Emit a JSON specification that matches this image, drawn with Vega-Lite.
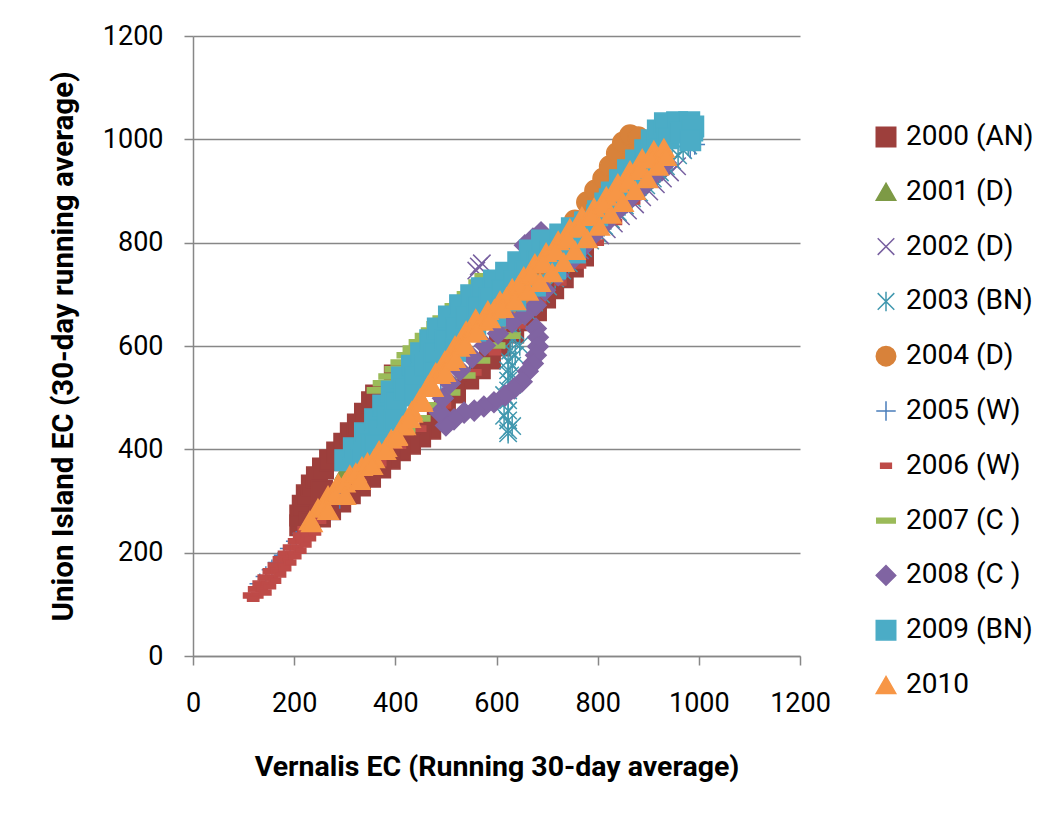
{
"$schema": "https://vega.github.io/schema/vega-lite/v6.json",
"width": 607, "height": 620,
"autosize": {"type": "none"},
"padding": {"left": 193, "top": 36, "right": 247, "bottom": 159},
"background": "white",
"config": {"view": {"stroke": null}, "font": "Roboto",
 "legend": {"labelFont": "Roboto", "labelFontSize": 28, "labelColor": "#000", "symbolSize": 380, "rowPadding": 26.8, "labelOffset": 6, "symbolStrokeWidth": 1.5, "padding": 0, "labelLimit": 400, "symbolOpacity": 1}},
"data": {"values": [
{"s":"2000 (AN)","x":212,"y":253},{"s":"2000 (AN)","x":212,"y":272},{"s":"2000 (AN)","x":217,"y":291},{"s":"2000 (AN)","x":225,"y":311},{"s":"2000 (AN)","x":235,"y":330},{"s":"2000 (AN)","x":245,"y":346},{"s":"2000 (AN)","x":257,"y":363},{"s":"2000 (AN)","x":271,"y":379},{"s":"2000 (AN)","x":285,"y":394},{"s":"2000 (AN)","x":299,"y":411},{"s":"2000 (AN)","x":312,"y":431},{"s":"2000 (AN)","x":326,"y":448},{"s":"2000 (AN)","x":340,"y":469},{"s":"2000 (AN)","x":354,"y":491},{"s":"2000 (AN)","x":362,"y":504},{"s":"2000 (AN)","x":255,"y":320},{"s":"2000 (AN)","x":399,"y":543},{"s":"2000 (AN)","x":449,"y":591},{"s":"2000 (AN)","x":508,"y":640},{"s":"2000 (AN)","x":567,"y":688},{"s":"2000 (AN)","x":627,"y":717},{"s":"2000 (AN)","x":686,"y":746},{"s":"2000 (AN)","x":745,"y":770},{"s":"2000 (AN)","x":771,"y":775},{"s":"2000 (AN)","x":751,"y":754},{"s":"2000 (AN)","x":731,"y":733},{"s":"2000 (AN)","x":712,"y":712},{"s":"2000 (AN)","x":696,"y":694},{"s":"2000 (AN)","x":678,"y":669},{"s":"2000 (AN)","x":656,"y":650},{"s":"2000 (AN)","x":633,"y":626},{"s":"2000 (AN)","x":607,"y":601},{"s":"2000 (AN)","x":587,"y":576},{"s":"2000 (AN)","x":567,"y":557},{"s":"2000 (AN)","x":544,"y":537},{"s":"2000 (AN)","x":518,"y":510},{"s":"2000 (AN)","x":498,"y":485},{"s":"2000 (AN)","x":484,"y":464},{"s":"2000 (AN)","x":469,"y":440},{"s":"2000 (AN)","x":449,"y":425},{"s":"2000 (AN)","x":429,"y":411},{"s":"2000 (AN)","x":409,"y":398},{"s":"2000 (AN)","x":389,"y":382},{"s":"2000 (AN)","x":370,"y":365},{"s":"2000 (AN)","x":350,"y":347},{"s":"2000 (AN)","x":330,"y":330},{"s":"2000 (AN)","x":310,"y":315},{"s":"2000 (AN)","x":291,"y":299},{"s":"2000 (AN)","x":271,"y":284},{"s":"2000 (AN)","x":251,"y":270},{"s":"2000 (AN)","x":231,"y":258},
{"s":"2001 (D)","x":301,"y":359},{"s":"2001 (D)","x":330,"y":398},{"s":"2001 (D)","x":366,"y":437},{"s":"2001 (D)","x":399,"y":475},{"s":"2001 (D)","x":433,"y":514},{"s":"2001 (D)","x":469,"y":553},{"s":"2001 (D)","x":504,"y":591},{"s":"2001 (D)","x":540,"y":630},{"s":"2001 (D)","x":577,"y":665},{"s":"2001 (D)","x":617,"y":698},{"s":"2001 (D)","x":656,"y":731},{"s":"2001 (D)","x":696,"y":762},{"s":"2001 (D)","x":735,"y":795},{"s":"2001 (D)","x":775,"y":828},{"s":"2001 (D)","x":815,"y":862},{"s":"2001 (D)","x":854,"y":897},{"s":"2001 (D)","x":884,"y":930},
{"s":"2002 (D)","x":560,"y":746},{"s":"2002 (D)","x":565,"y":754},{"s":"2002 (D)","x":571,"y":760},{"s":"2002 (D)","x":646,"y":688},{"s":"2002 (D)","x":706,"y":746},{"s":"2002 (D)","x":765,"y":785},{"s":"2002 (D)","x":805,"y":814},{"s":"2002 (D)","x":818,"y":826},{"s":"2002 (D)","x":832,"y":837},{"s":"2002 (D)","x":846,"y":851},{"s":"2002 (D)","x":860,"y":862},{"s":"2002 (D)","x":874,"y":874},{"s":"2002 (D)","x":888,"y":888},{"s":"2002 (D)","x":902,"y":899},{"s":"2002 (D)","x":915,"y":913},{"s":"2002 (D)","x":929,"y":924},{"s":"2002 (D)","x":943,"y":936},{"s":"2002 (D)","x":957,"y":948},
{"s":"2003 (BN)","x":979,"y":988},{"s":"2003 (BN)","x":969,"y":979},{"s":"2003 (BN)","x":959,"y":969},{"s":"2003 (BN)","x":947,"y":959},{"s":"2003 (BN)","x":935,"y":948},{"s":"2003 (BN)","x":923,"y":936},{"s":"2003 (BN)","x":909,"y":924},{"s":"2003 (BN)","x":896,"y":911},{"s":"2003 (BN)","x":882,"y":897},{"s":"2003 (BN)","x":868,"y":886},{"s":"2003 (BN)","x":854,"y":872},{"s":"2003 (BN)","x":840,"y":859},{"s":"2003 (BN)","x":826,"y":845},{"s":"2003 (BN)","x":813,"y":832},{"s":"2003 (BN)","x":799,"y":818},{"s":"2003 (BN)","x":785,"y":804},{"s":"2003 (BN)","x":771,"y":789},{"s":"2003 (BN)","x":757,"y":775},{"s":"2003 (BN)","x":743,"y":760},{"s":"2003 (BN)","x":730,"y":746},{"s":"2003 (BN)","x":716,"y":731},{"s":"2003 (BN)","x":702,"y":715},{"s":"2003 (BN)","x":688,"y":700},{"s":"2003 (BN)","x":674,"y":684},{"s":"2003 (BN)","x":660,"y":667},{"s":"2003 (BN)","x":646,"y":650},{"s":"2003 (BN)","x":637,"y":630},{"s":"2003 (BN)","x":631,"y":611},{"s":"2003 (BN)","x":627,"y":591},{"s":"2003 (BN)","x":623,"y":572},{"s":"2003 (BN)","x":623,"y":553},{"s":"2003 (BN)","x":623,"y":533},{"s":"2003 (BN)","x":623,"y":514},{"s":"2003 (BN)","x":623,"y":495},{"s":"2003 (BN)","x":623,"y":475},{"s":"2003 (BN)","x":623,"y":456},{"s":"2003 (BN)","x":623,"y":437},{"s":"2003 (BN)","x":623,"y":431},{"s":"2003 (BN)","x":637,"y":582},{"s":"2003 (BN)","x":646,"y":601},{"s":"2003 (BN)","x":627,"y":543},{"s":"2003 (BN)","x":631,"y":562},{"s":"2003 (BN)","x":615,"y":465},{"s":"2003 (BN)","x":631,"y":445},{"s":"2003 (BN)","x":615,"y":505},{"s":"2003 (BN)","x":631,"y":525},
{"s":"2004 (D)","x":607,"y":650},{"s":"2004 (D)","x":646,"y":688},{"s":"2004 (D)","x":686,"y":727},{"s":"2004 (D)","x":726,"y":785},{"s":"2004 (D)","x":755,"y":843},{"s":"2004 (D)","x":779,"y":878},{"s":"2004 (D)","x":795,"y":901},{"s":"2004 (D)","x":811,"y":924},{"s":"2004 (D)","x":824,"y":948},{"s":"2004 (D)","x":838,"y":973},{"s":"2004 (D)","x":850,"y":994},{"s":"2004 (D)","x":864,"y":1008},{"s":"2004 (D)","x":880,"y":1004},{"s":"2004 (D)","x":894,"y":988},{"s":"2004 (D)","x":884,"y":979},{"s":"2004 (D)","x":864,"y":950},{"s":"2004 (D)","x":844,"y":921},{"s":"2004 (D)","x":815,"y":882},{"s":"2004 (D)","x":785,"y":843},{"s":"2004 (D)","x":745,"y":795},{"s":"2004 (D)","x":706,"y":756},{"s":"2004 (D)","x":656,"y":708},{"s":"2004 (D)","x":617,"y":669},
{"s":"2005 (W)","x":132,"y":140},{"s":"2005 (W)","x":144,"y":154},{"s":"2005 (W)","x":156,"y":167},{"s":"2005 (W)","x":168,"y":181},{"s":"2005 (W)","x":180,"y":195},{"s":"2005 (W)","x":192,"y":208},{"s":"2005 (W)","x":204,"y":222},{"s":"2005 (W)","x":217,"y":237},{"s":"2005 (W)","x":290,"y":305},{"s":"2005 (W)","x":335,"y":359},{"s":"2005 (W)","x":385,"y":408},{"s":"2005 (W)","x":435,"y":456},{"s":"2005 (W)","x":490,"y":514},{"s":"2005 (W)","x":548,"y":572},{"s":"2005 (W)","x":607,"y":635},{"s":"2005 (W)","x":666,"y":693},{"s":"2005 (W)","x":730,"y":802},{"s":"2005 (W)","x":777,"y":839},{"s":"2005 (W)","x":824,"y":884},{"s":"2005 (W)","x":872,"y":932},{"s":"2005 (W)","x":919,"y":983},{"s":"2005 (W)","x":983,"y":983},{"s":"2005 (W)","x":992,"y":990},
{"s":"2006 (W)","x":111,"y":117},{"s":"2006 (W)","x":121,"y":129},{"s":"2006 (W)","x":130,"y":140},{"s":"2006 (W)","x":140,"y":152},{"s":"2006 (W)","x":150,"y":164},{"s":"2006 (W)","x":160,"y":175},{"s":"2006 (W)","x":170,"y":187},{"s":"2006 (W)","x":180,"y":198},{"s":"2006 (W)","x":190,"y":210},{"s":"2006 (W)","x":200,"y":222},{"s":"2006 (W)","x":210,"y":233},{"s":"2006 (W)","x":219,"y":245},
{"s":"2006 (W)","x":127,"y":117},{"s":"2006 (W)","x":136,"y":129},{"s":"2006 (W)","x":146,"y":140},{"s":"2006 (W)","x":156,"y":152},{"s":"2006 (W)","x":166,"y":164},{"s":"2006 (W)","x":176,"y":175},{"s":"2006 (W)","x":186,"y":187},{"s":"2006 (W)","x":196,"y":198},{"s":"2006 (W)","x":206,"y":210},{"s":"2006 (W)","x":215,"y":222},{"s":"2006 (W)","x":225,"y":233},{"s":"2006 (W)","x":235,"y":245},
{"s":"2006 (W)","x":119,"y":111},{"s":"2006 (W)","x":143,"y":123},{"s":"2006 (W)","x":152,"y":135},{"s":"2006 (W)","x":162,"y":146},{"s":"2006 (W)","x":172,"y":158},{"s":"2006 (W)","x":182,"y":170},{"s":"2006 (W)","x":192,"y":181},{"s":"2006 (W)","x":202,"y":193},{"s":"2006 (W)","x":212,"y":204},{"s":"2006 (W)","x":222,"y":216},{"s":"2006 (W)","x":231,"y":228},{"s":"2006 (W)","x":241,"y":239},
{"s":"2006 (W)","x":251,"y":262},{"s":"2006 (W)","x":291,"y":301},{"s":"2006 (W)","x":330,"y":336},{"s":"2006 (W)","x":370,"y":373},{"s":"2006 (W)","x":409,"y":407},{"s":"2006 (W)","x":449,"y":440},{"s":"2006 (W)","x":498,"y":485},{"s":"2006 (W)","x":558,"y":549},{"s":"2006 (W)","x":597,"y":588},{"s":"2006 (W)","x":646,"y":640},{"s":"2006 (W)","x":686,"y":688},{"s":"2006 (W)","x":726,"y":723},{"s":"2006 (W)","x":765,"y":756},{"s":"2006 (W)","x":800,"y":800},{"s":"2006 (W)","x":836,"y":840},{"s":"2006 (W)","x":872,"y":880},
{"s":"2007 (C )","x":364,"y":514},{"s":"2007 (C )","x":376,"y":528},{"s":"2007 (C )","x":387,"y":541},{"s":"2007 (C )","x":399,"y":555},{"s":"2007 (C )","x":411,"y":568},{"s":"2007 (C )","x":423,"y":582},{"s":"2007 (C )","x":435,"y":595},{"s":"2007 (C )","x":447,"y":607},{"s":"2007 (C )","x":459,"y":619},{"s":"2007 (C )","x":471,"y":630},{"s":"2007 (C )","x":482,"y":642},{"s":"2007 (C )","x":494,"y":653},{"s":"2007 (C )","x":506,"y":665},{"s":"2007 (C )","x":518,"y":677},{"s":"2007 (C )","x":530,"y":688},{"s":"2007 (C )","x":542,"y":700},{"s":"2007 (C )","x":554,"y":711},{"s":"2007 (C )","x":565,"y":723},{"s":"2007 (C )","x":577,"y":735},
{"s":"2007 (C )","x":607,"y":688},{"s":"2007 (C )","x":637,"y":650},{"s":"2007 (C )","x":627,"y":620},{"s":"2007 (C )","x":597,"y":601},{"s":"2007 (C )","x":567,"y":572},{"s":"2007 (C )","x":538,"y":543},{"s":"2007 (C )","x":508,"y":510},{"s":"2007 (C )","x":478,"y":485},{"s":"2007 (C )","x":449,"y":460},{"s":"2007 (C )","x":419,"y":437},{"s":"2007 (C )","x":389,"y":417},
{"s":"2008 (C )","x":935,"y":954},{"s":"2008 (C )","x":915,"y":936},{"s":"2008 (C )","x":896,"y":917},{"s":"2008 (C )","x":876,"y":897},{"s":"2008 (C )","x":856,"y":878},{"s":"2008 (C )","x":836,"y":859},{"s":"2008 (C )","x":817,"y":839},{"s":"2008 (C )","x":797,"y":820},{"s":"2008 (C )","x":775,"y":795},{"s":"2008 (C )","x":749,"y":766},{"s":"2008 (C )","x":722,"y":737},{"s":"2008 (C )","x":696,"y":708},{"s":"2008 (C )","x":678,"y":679},
{"s":"2008 (C )","x":678,"y":634},{"s":"2008 (C )","x":682,"y":617},{"s":"2008 (C )","x":682,"y":599},{"s":"2008 (C )","x":678,"y":582},{"s":"2008 (C )","x":672,"y":566},{"s":"2008 (C )","x":662,"y":551},{"s":"2008 (C )","x":650,"y":531},{"s":"2008 (C )","x":635,"y":518},{"s":"2008 (C )","x":617,"y":504},{"s":"2008 (C )","x":595,"y":491},{"s":"2008 (C )","x":575,"y":483},{"s":"2008 (C )","x":556,"y":475},{"s":"2008 (C )","x":536,"y":471},{"s":"2008 (C )","x":516,"y":458},{"s":"2008 (C )","x":500,"y":446},
{"s":"2008 (C )","x":488,"y":471},{"s":"2008 (C )","x":494,"y":499},{"s":"2008 (C )","x":508,"y":528},{"s":"2008 (C )","x":528,"y":553},{"s":"2008 (C )","x":552,"y":578},{"s":"2008 (C )","x":577,"y":601},{"s":"2008 (C )","x":603,"y":624},{"s":"2008 (C )","x":631,"y":646},{"s":"2008 (C )","x":656,"y":661},
{"s":"2008 (C )","x":646,"y":708},{"s":"2008 (C )","x":650,"y":761},{"s":"2008 (C )","x":656,"y":795},{"s":"2008 (C )","x":672,"y":808},{"s":"2008 (C )","x":688,"y":820},
{"s":"2009 (BN)","x":301,"y":379},{"s":"2009 (BN)","x":318,"y":402},{"s":"2009 (BN)","x":340,"y":431},{"s":"2009 (BN)","x":360,"y":458},{"s":"2009 (BN)","x":376,"y":485},{"s":"2009 (BN)","x":393,"y":512},{"s":"2009 (BN)","x":413,"y":539},{"s":"2009 (BN)","x":433,"y":562},{"s":"2009 (BN)","x":451,"y":586},{"s":"2009 (BN)","x":469,"y":611},{"s":"2009 (BN)","x":484,"y":634},{"s":"2009 (BN)","x":506,"y":657},{"s":"2009 (BN)","x":528,"y":679},{"s":"2009 (BN)","x":550,"y":698},{"s":"2009 (BN)","x":571,"y":712},{"s":"2009 (BN)","x":595,"y":727},{"s":"2009 (BN)","x":619,"y":742},{"s":"2009 (BN)","x":643,"y":762},{"s":"2009 (BN)","x":666,"y":785},{"s":"2009 (BN)","x":690,"y":804},{"s":"2009 (BN)","x":726,"y":816},{"s":"2009 (BN)","x":749,"y":828},{"s":"2009 (BN)","x":775,"y":839},{"s":"2009 (BN)","x":799,"y":853},{"s":"2009 (BN)","x":815,"y":876},{"s":"2009 (BN)","x":828,"y":897},{"s":"2009 (BN)","x":844,"y":921},{"s":"2009 (BN)","x":860,"y":940},{"s":"2009 (BN)","x":876,"y":959},{"s":"2009 (BN)","x":894,"y":979},{"s":"2009 (BN)","x":907,"y":998},{"s":"2009 (BN)","x":919,"y":1017},{"s":"2009 (BN)","x":933,"y":1031},{"s":"2009 (BN)","x":957,"y":1033},{"s":"2009 (BN)","x":981,"y":1033},{"s":"2009 (BN)","x":989,"y":1025},
{"s":"2009 (BN)","x":334,"y":382},{"s":"2009 (BN)","x":352,"y":410},{"s":"2009 (BN)","x":368,"y":437},{"s":"2009 (BN)","x":384,"y":464},{"s":"2009 (BN)","x":401,"y":491},{"s":"2009 (BN)","x":419,"y":516},{"s":"2009 (BN)","x":439,"y":539},{"s":"2009 (BN)","x":459,"y":562},{"s":"2009 (BN)","x":478,"y":586},{"s":"2009 (BN)","x":500,"y":611},{"s":"2009 (BN)","x":520,"y":634},{"s":"2009 (BN)","x":540,"y":655},{"s":"2009 (BN)","x":563,"y":675},{"s":"2009 (BN)","x":587,"y":692},{"s":"2009 (BN)","x":611,"y":708},{"s":"2009 (BN)","x":635,"y":725},{"s":"2009 (BN)","x":658,"y":744},{"s":"2009 (BN)","x":682,"y":764},{"s":"2009 (BN)","x":706,"y":783},{"s":"2009 (BN)","x":730,"y":802},{"s":"2009 (BN)","x":753,"y":820},{"s":"2009 (BN)","x":777,"y":839},{"s":"2009 (BN)","x":801,"y":861},{"s":"2009 (BN)","x":824,"y":884},{"s":"2009 (BN)","x":848,"y":907},{"s":"2009 (BN)","x":872,"y":932},{"s":"2009 (BN)","x":896,"y":957},{"s":"2009 (BN)","x":919,"y":983},{"s":"2009 (BN)","x":939,"y":1002},{"s":"2009 (BN)","x":963,"y":1013},{"s":"2009 (BN)","x":987,"y":1017},{"s":"2009 (BN)","x":983,"y":998},
{"s":"2009 (BN)","x":360,"y":408},{"s":"2009 (BN)","x":399,"y":456},{"s":"2009 (BN)","x":439,"y":504},{"s":"2009 (BN)","x":478,"y":549},{"s":"2009 (BN)","x":518,"y":591},{"s":"2009 (BN)","x":558,"y":630},{"s":"2009 (BN)","x":597,"y":659},{"s":"2009 (BN)","x":637,"y":688},{"s":"2009 (BN)","x":676,"y":717},{"s":"2009 (BN)","x":716,"y":750},{"s":"2009 (BN)","x":755,"y":781},
{"s":"2010","x":231,"y":262},{"s":"2010","x":247,"y":286},{"s":"2010","x":267,"y":311},{"s":"2010","x":287,"y":334},{"s":"2010","x":310,"y":351},{"s":"2010","x":334,"y":367},{"s":"2010","x":358,"y":382},{"s":"2010","x":382,"y":404},{"s":"2010","x":403,"y":425},{"s":"2010","x":419,"y":446},{"s":"2010","x":433,"y":475},{"s":"2010","x":449,"y":499},{"s":"2010","x":465,"y":524},{"s":"2010","x":480,"y":549},{"s":"2010","x":498,"y":572},{"s":"2010","x":518,"y":601},{"s":"2010","x":540,"y":630},{"s":"2010","x":559,"y":653},{"s":"2010","x":583,"y":669},{"s":"2010","x":607,"y":688},{"s":"2010","x":631,"y":712},{"s":"2010","x":654,"y":735},{"s":"2010","x":676,"y":760},{"s":"2010","x":698,"y":781},{"s":"2010","x":722,"y":804},{"s":"2010","x":745,"y":828},{"s":"2010","x":769,"y":851},{"s":"2010","x":793,"y":868},{"s":"2010","x":817,"y":890},{"s":"2010","x":840,"y":915},{"s":"2010","x":864,"y":940},{"s":"2010","x":888,"y":963},{"s":"2010","x":911,"y":979},{"s":"2010","x":931,"y":983},
{"s":"2010","x":258,"y":290},{"s":"2010","x":280,"y":312},{"s":"2010","x":300,"y":335},{"s":"2010","x":322,"y":355},{"s":"2010","x":345,"y":375},{"s":"2010","x":368,"y":398},{"s":"2010","x":392,"y":420},{"s":"2010","x":414,"y":446},{"s":"2010","x":433,"y":470},{"s":"2010","x":452,"y":495},{"s":"2010","x":470,"y":520},{"s":"2010","x":488,"y":545},{"s":"2010","x":506,"y":570},{"s":"2010","x":526,"y":598},{"s":"2010","x":548,"y":625},{"s":"2010","x":572,"y":648},{"s":"2010","x":596,"y":672},{"s":"2010","x":620,"y":695},{"s":"2010","x":644,"y":718},{"s":"2010","x":668,"y":740},{"s":"2010","x":692,"y":762},{"s":"2010","x":716,"y":785},{"s":"2010","x":740,"y":808},{"s":"2010","x":764,"y":830},{"s":"2010","x":788,"y":852},{"s":"2010","x":812,"y":875},{"s":"2010","x":836,"y":898},{"s":"2010","x":860,"y":921},{"s":"2010","x":884,"y":944},{"s":"2010","x":906,"y":962},
{"s":"2010","x":235,"y":258},{"s":"2010","x":267,"y":282},{"s":"2010","x":301,"y":311},{"s":"2010","x":330,"y":340},{"s":"2010","x":354,"y":369},{"s":"2010","x":380,"y":398},{"s":"2010","x":403,"y":427},{"s":"2010","x":429,"y":460},{"s":"2010","x":453,"y":491},{"s":"2010","x":474,"y":520},{"s":"2010","x":498,"y":549},{"s":"2010","x":518,"y":576},{"s":"2010","x":538,"y":603},{"s":"2010","x":561,"y":630},{"s":"2010","x":587,"y":653},{"s":"2010","x":613,"y":673},{"s":"2010","x":637,"y":688},{"s":"2010","x":662,"y":706},{"s":"2010","x":686,"y":723},{"s":"2010","x":710,"y":742},{"s":"2010","x":733,"y":762},{"s":"2010","x":755,"y":785},{"s":"2010","x":779,"y":808},{"s":"2010","x":803,"y":832},{"s":"2010","x":826,"y":855},{"s":"2010","x":850,"y":878},{"s":"2010","x":874,"y":901},{"s":"2010","x":898,"y":924},{"s":"2010","x":919,"y":948},{"s":"2010","x":935,"y":967}
]},
"mark": {"type": "point", "filled": true, "size": 420, "opacity": 1, "strokeWidth": 1.5},
"encoding": {
 "x": {"field": "x", "type": "quantitative", "scale": {"domain": [0, 1200], "nice": false, "zero": false},
  "axis": {"values": [0, 200, 400, 600, 800, 1000, 1200], "format": "d", "grid": false, "domainColor": "#878787", "domainWidth": 1.5, "tickColor": "#878787", "tickWidth": 1.5, "tickSize": 9, "labelFont": "Roboto", "labelFontSize": 27, "labelColor": "#000", "labelPadding": 25, "labelFlush": false, "labelOverlap": false,
   "title": "Vernalis EC (Running 30-day average)", "titleFont": "Roboto", "titleFontSize": 28.5, "titleFontWeight": "bold", "titleColor": "#000", "titleX": 303.5, "titleY": 119, "titleBaseline": "alphabetic", "titleAlign": "center"}},
 "y": {"field": "y", "type": "quantitative", "scale": {"domain": [0, 1200], "nice": false, "zero": false},
  "axis": {"values": [0, 200, 400, 600, 800, 1000, 1200], "format": "d", "grid": true, "gridColor": "#878787", "gridWidth": 1.5, "domainColor": "#878787", "domainWidth": 1.5, "tickColor": "#878787", "tickWidth": 1.5, "tickSize": 9, "labelFont": "Roboto", "labelFontSize": 27, "labelColor": "#000", "labelPadding": 21, "labelFlush": false, "labelOverlap": false,
   "title": "Union Island EC (30-day running average)", "titleFont": "Roboto", "titleFontSize": 29.5, "titleFontWeight": "bold", "titleColor": "#000", "titleX": -121, "titleY": 310, "titleAngle": -90, "titleBaseline": "alphabetic", "titleAlign": "center"}},
 "fill": {"field": "s", "type": "nominal",
  "scale": {"domain": ["2000 (AN)", "2001 (D)", "2002 (D)", "2003 (BN)", "2004 (D)", "2005 (W)", "2006 (W)", "2007 (C )", "2008 (C )", "2009 (BN)", "2010"],
   "range": ["#9D3F3C", "#7D9A45", "#7860A0", "#4198AF", "#D8823A", "#4A7EBB", "#BE4B48", "#9BBB59", "#8064A2", "#4BACC6", "#F79646"]},
  "legend": {"orient": "none", "legendX": 679, "legendY": 87, "title": null}},
 "stroke": {"field": "s", "type": "nominal",
  "scale": {"domain": ["2000 (AN)", "2001 (D)", "2002 (D)", "2003 (BN)", "2004 (D)", "2005 (W)", "2006 (W)", "2007 (C )", "2008 (C )", "2009 (BN)", "2010"],
   "range": ["#9D3F3C", "#7D9A45", "#7860A0", "#4198AF", "#D8823A", "#4A7EBB", "#BE4B48", "#9BBB59", "#8064A2", "#4BACC6", "#F79646"]},
  "legend": {"orient": "none", "legendX": 679, "legendY": 87, "title": null}},
 "shape": {"field": "s", "type": "nominal",
  "scale": {"domain": ["2000 (AN)", "2001 (D)", "2002 (D)", "2003 (BN)", "2004 (D)", "2005 (W)", "2006 (W)", "2007 (C )", "2008 (C )", "2009 (BN)", "2010"],
   "range": ["square", "triangle-up", "M-0.85,-0.85L0.85,0.85M0.85,-0.85L-0.85,0.85", "M-0.85,-0.85L0.85,0.85M0.85,-0.85L-0.85,0.85M0,-1L0,1", "circle", "M-1,0L1,0M0,-1L0,1", "M-0.55,-0.25L0.55,-0.25L0.55,0.25L-0.55,0.25Z", "M-0.95,-0.25L0.95,-0.25L0.95,0.25L-0.95,0.25Z", "diamond", "square", "triangle-up"]},
  "legend": {"orient": "none", "legendX": 679, "legendY": 87, "title": null}}
}
}
